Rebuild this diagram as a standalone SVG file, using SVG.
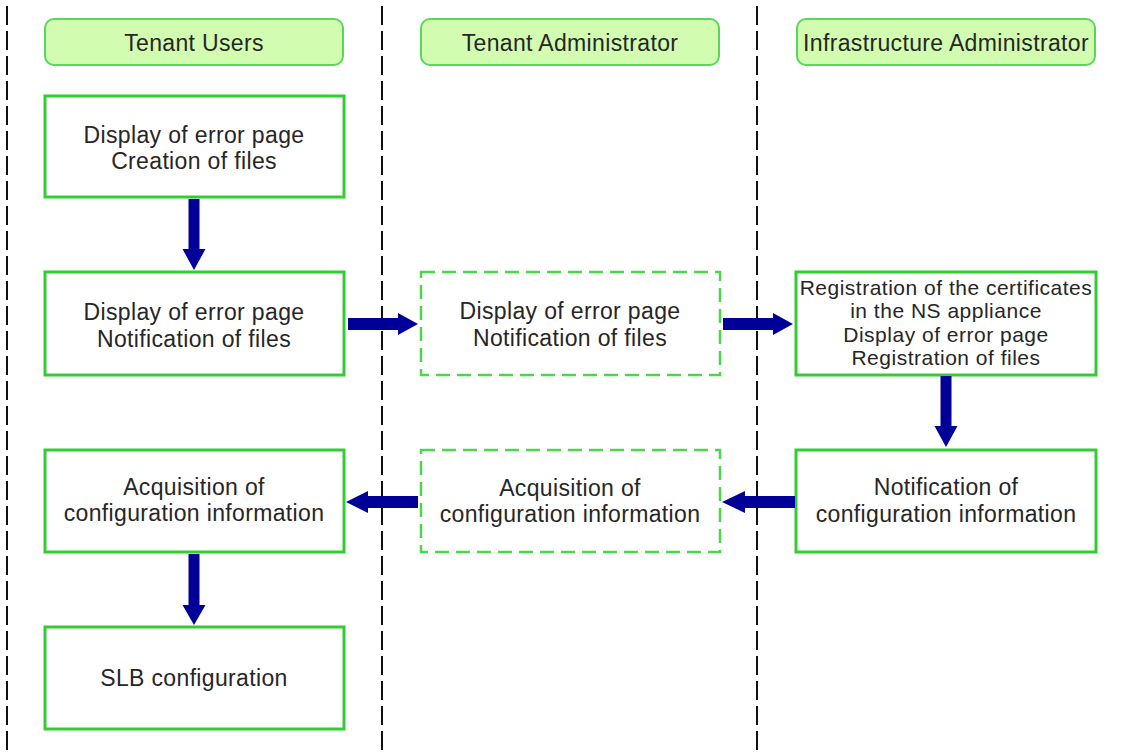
<svg xmlns="http://www.w3.org/2000/svg" width="1126" height="756" viewBox="0 0 1126 756">
<style>
.lane{stroke:#111;stroke-width:2;stroke-dasharray:19 6;fill:none}
.hdr{fill:#d2fcb0;stroke:#5ad65a;stroke-width:2}
.box{fill:#fff;stroke:#33cc33;stroke-width:3}
.dbox{fill:#fff;stroke:#4cd64c;stroke-width:2.5;stroke-dasharray:14 7}
text{font-family:"Liberation Sans",Arial,sans-serif;font-size:23px;letter-spacing:0.35px;fill:#262626;text-anchor:middle}
.sm{font-size:21px;letter-spacing:0.5px}
.arr{fill:#000099}
</style>
<rect width="1126" height="756" fill="#fff"/>
<g id="lanes">
<line class="lane" x1="7" y1="6" x2="7" y2="756"/>
<line class="lane" x1="382" y1="6" x2="382" y2="756"/>
<line class="lane" x1="757" y1="6" x2="757" y2="756"/>
</g>
<g id="hdr-tenant-users"><rect class="hdr" x="45" y="19" width="298" height="46" rx="9"/><text x="194" y="51">Tenant Users</text></g>
<g id="hdr-tenant-admin"><rect class="hdr" x="421" y="19" width="298" height="46" rx="9"/><text x="570" y="51">Tenant Administrator</text></g>
<g id="hdr-infra-admin"><rect class="hdr" x="797" y="19" width="298" height="46" rx="9"/><text x="946" y="51">Infrastructure Administrator</text></g>

<g id="n1"><rect class="box" x="45" y="96" width="299" height="101"/><text x="194" y="143">Display of error page</text><text x="194" y="169">Creation of files</text></g>
<g id="n2"><rect class="box" x="45" y="272" width="299" height="103"/><text x="194" y="320">Display of error page</text><text x="194" y="347">Notification of files</text></g>
<g id="n3"><rect class="dbox" x="421" y="272" width="299" height="103"/><text x="570" y="319">Display of error page</text><text x="570" y="346">Notification of files</text></g>
<g id="n4"><rect class="box" x="796" y="272" width="300" height="103"/><text class="sm" x="946" y="295">Registration of the certificates</text><text class="sm" x="946" y="318">in the NS appliance</text><text class="sm" x="946" y="342">Display of error page</text><text class="sm" x="946" y="365">Registration of files</text></g>
<g id="n5"><rect class="box" x="796" y="450" width="300" height="102"/><text x="946" y="495">Notification of</text><text x="946" y="522">configuration information</text></g>
<g id="n6"><rect class="dbox" x="421" y="450" width="299" height="102"/><text x="570" y="496">Acquisition of</text><text x="570" y="522">configuration information</text></g>
<g id="n7"><rect class="box" x="45" y="450" width="299" height="102"/><text x="194" y="495">Acquisition of</text><text x="194" y="521">configuration information</text></g>
<g id="n8"><rect class="box" x="45" y="627" width="299" height="102"/><text x="194" y="686">SLB configuration</text></g>

<g id="connectors">
<path class="arr" d="M188.5 199 H199.5 V249 H205.5 L194 270 L182.5 249 H188.5 Z"/>
<path class="arr" d="M348 318 H398 V313 L418 324 L398 335 V330 H348 Z"/>
<path class="arr" d="M723 318 H773 V313 L793 324 L773 335 V330 H723 Z"/>
<path class="arr" d="M940.5 376 H951.5 V426 H957.5 L946 447 L934.5 426 H940.5 Z"/>
<path class="arr" d="M795 496 H745 V491 L722 502 L745 513 V508 H795 Z"/>
<path class="arr" d="M418 496 H368 V491 L346 502 L368 513 V508 H418 Z"/>
<path class="arr" d="M188.5 554 H199.5 V605 H205.5 L194 625 L182.5 605 H188.5 Z"/>
</g>
</svg>
